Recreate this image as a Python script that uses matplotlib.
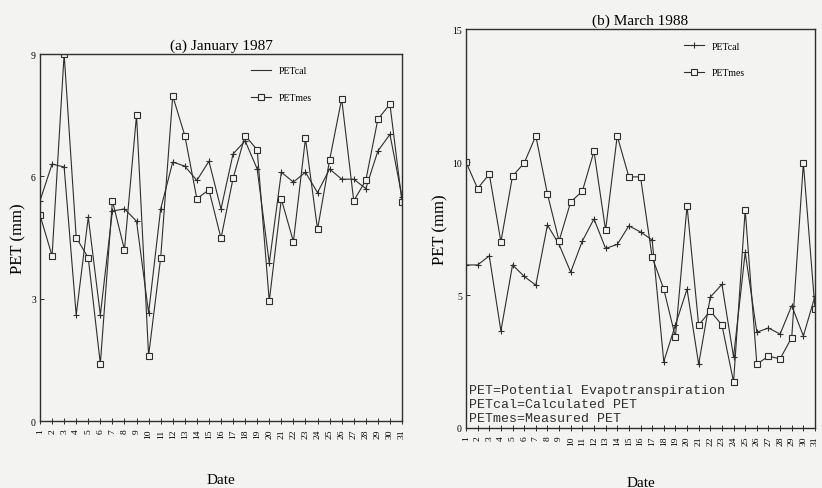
import matplotlib
matplotlib.use("Agg")
import matplotlib.pyplot as plt

# daily PET (mm), calculated vs measured
days = list(range(1, 32))

jan_cal = [5.4, 6.3, 6.23, 2.6, 5.0, 2.6, 5.15, 5.2, 4.9, 2.65, 5.2,
           6.35, 6.25, 5.9, 6.37, 5.2, 6.55, 6.87, 6.18, 3.87, 6.1,
           5.86, 6.1, 5.6, 6.18, 5.93, 5.93, 5.7, 6.62, 7.03, 5.5]
jan_mes = [5.05, 4.05, 9.0, 4.5, 4.0, 1.4, 5.4, 4.2, 7.5, 1.6, 4.0,
           7.97, 7.0, 5.45, 5.67, 4.48, 5.95, 7.0, 6.65, 2.94, 5.44,
           4.4, 6.93, 4.7, 6.4, 7.9, 5.4, 5.9, 7.4, 7.77, 5.37]

mar_cal = [6.13, 6.13, 6.47, 3.65, 6.13, 5.7, 5.37, 7.63, 6.9, 5.86, 7.03,
           7.86, 6.75, 6.9, 7.6, 7.37, 7.07, 2.5, 3.87, 5.22, 2.4,
           4.92, 5.4, 2.67, 6.6, 3.6, 3.76, 3.53, 4.6, 3.46, 4.96]
mar_mes = [10.0, 9.0, 9.55, 7.0, 9.47, 9.96, 10.98, 8.8, 7.03, 8.5, 8.9,
           10.4, 7.44, 10.98, 9.44, 9.44, 6.43, 5.22, 3.42, 8.35, 3.87,
           4.4, 3.87, 1.73, 8.2, 2.4, 2.7, 2.6, 3.4, 9.96, 4.47]

jan_yticks = [0, 3, 6, 9]
mar_yticks = [0, 5, 10, 15]

SERIF = "Liberation Serif"
INK = "#2e2e2e"
PAPER = "#f3f3f1"

fig = plt.figure(figsize=(8.22, 4.89), dpi=100, facecolor=PAPER)


def panel(rect, cal, mes, ymax, yticks, title, legend_pos, cal_marker, xpad):
    ax = fig.add_axes(rect)
    ax.set_facecolor(PAPER)
    ax.plot(days, cal, color=INK, lw=0.8, marker="+", ms=4, mew=0.8)
    ax.plot(days, mes, color=INK, lw=0.8, marker="s", ms=4, mfc=PAPER,
            mec=INK, mew=0.8)
    # legend handles drawn separately (panel a shows a plain line for PETcal)
    h_cal, = ax.plot([], [], color=INK, lw=0.8,
                     marker="+" if cal_marker else None, ms=4, mew=0.8,
                     label="PETcal")
    h_mes, = ax.plot([], [], color=INK, lw=0.8, marker="s", ms=4, mfc=PAPER,
                     mec=INK, mew=0.8, label="PETmes")
    ax.set_xlim(1, 31)
    ax.set_ylim(0, ymax)
    ax.set_xticks(days)
    ax.set_xticklabels([str(d) for d in days], rotation=90, fontsize=6.8,
                       family=SERIF, va="top")
    ax.set_yticks(yticks)
    ax.set_yticklabels([str(v) for v in yticks], fontsize=7, family=SERIF)
    ax.tick_params(axis="both", direction="in", length=3, width=0.7,
                   color=INK, pad=3)
    ax.tick_params(axis="x", direction="inout", length=5)
    for s in ax.spines.values():
        s.set_color(INK)
        s.set_linewidth(1.0)
    ax.set_xlabel("Date", family=SERIF, fontsize=11, labelpad=xpad)
    ax.set_ylabel("PET (mm)", family=SERIF, fontsize=12, labelpad=3)
    ax.set_title(title, family=SERIF, fontsize=11, pad=4)
    ax.legend(handles=[h_cal, h_mes], loc="upper left",
              bbox_to_anchor=legend_pos, frameon=False,
              prop={"family": SERIF, "size": 7},
              handlelength=2.0, labelspacing=1.8)
    return ax


axa = panel([40 / 822, 1 - 422 / 489, 362 / 822, 367 / 489],
            jan_cal, jan_mes, 9, jan_yticks, "(a) January 1987",
            (0.56, 0.99), False, 25)

axb = panel([466 / 822, 1 - 429 / 489, 349 / 822, 399 / 489],
            mar_cal, mar_mes, 15, mar_yticks, "(b) March 1988",
            (0.6, 0.99), True, 22)

axb.text(0.008, 0.01,
         "PET=Potential Evapotranspiration\n"
         "PETcal=Calculated PET\n"
         "PETmes=Measured PET",
         transform=axb.transAxes, family="Liberation Mono", fontsize=9.5,
         color=INK, va="bottom", ha="left", linespacing=1.25)

fig.savefig("out.png", dpi=100, facecolor=PAPER)
